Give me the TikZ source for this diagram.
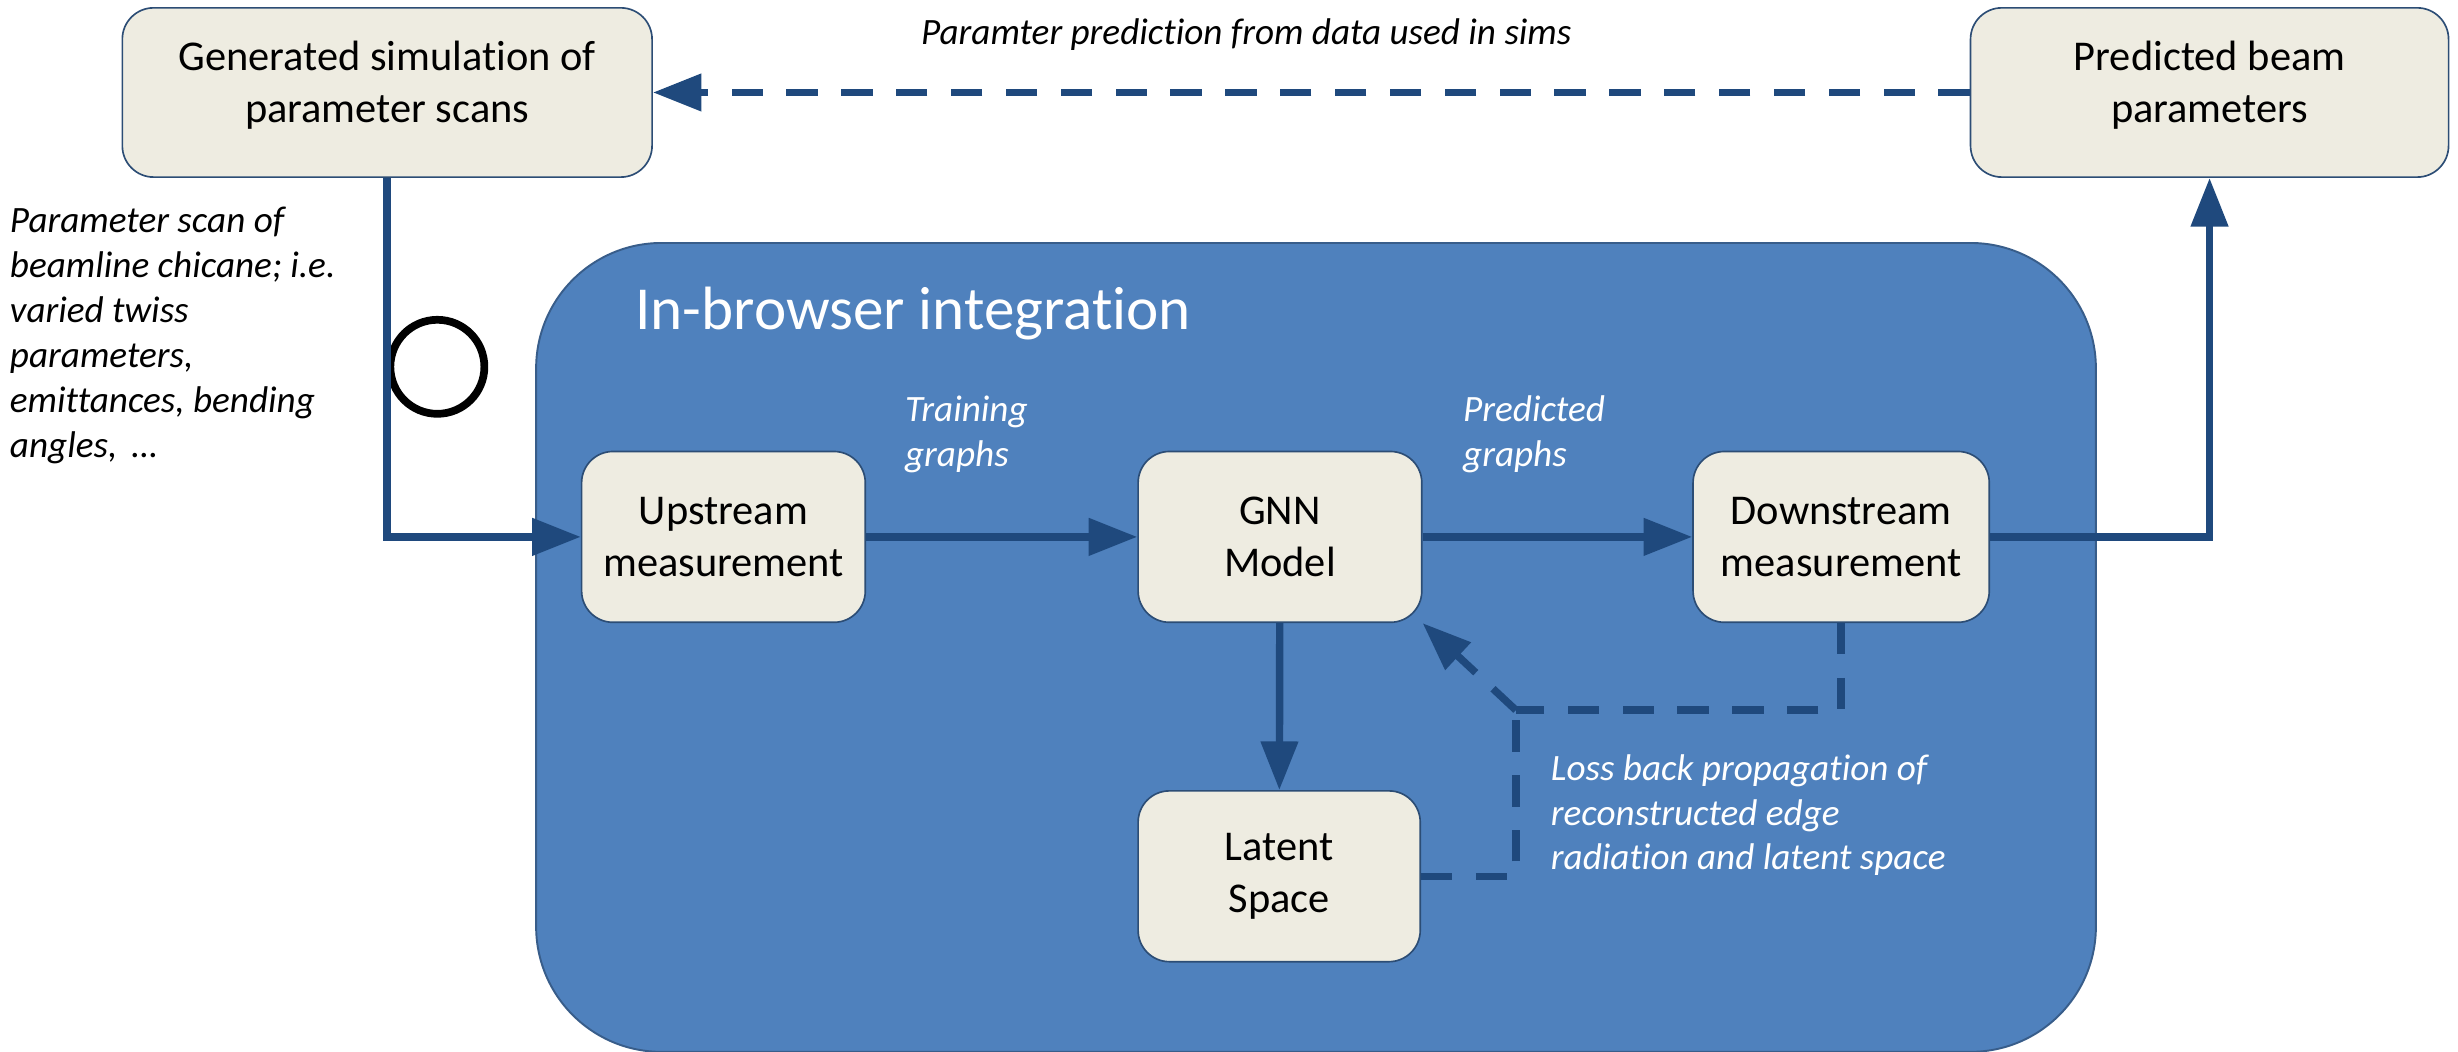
\documentclass[tikz,border=0pt]{standalone}
\usepackage{fontspec}
\setmainfont{Carlito}[Ligatures={NoCommon}]
\usetikzlibrary{arrows.meta}
\definecolor{linec}{RGB}{31,73,125}
\definecolor{bigfill}{RGB}{79,129,189}
\definecolor{bigborder}{RGB}{56,93,138}
\definecolor{boxfill}{RGB}{238,236,225}
\definecolor{boxborder}{RGB}{44,77,117}
\tikzset{
  box/.style={draw=boxborder, line width=0.6pt, fill=boxfill, rounded corners=0.4cm,
    align=center, inner sep=0pt, font=\fontsize{15.4}{18.8}\selectfont},
  conn/.style={draw=linec, line width=2.7pt, -{Triangle[length=0.62cm,width=0.46cm]}},
  dashc/.style={draw=linec, line width=2.7pt, dash pattern=on 0.4cm off 0.3cm},
  lab/.style={font=\fontsize{13.5}{16.3}\selectfont\itshape, align=left, inner sep=0pt, anchor=west},
}
\begin{document}
\begin{tikzpicture}[x=0.02cm,y=-0.02cm]
\useasboundingbox (0,0) rectangle (1568,671);
\clip (0,0) rectangle (1568,671);
% big container
\draw[fill=bigfill, draw=bigborder, line width=0.7pt, rounded corners=1.6cm] (342,155) rectangle (1337,671);
\node[anchor=west, text=white, inner sep=0pt, font=\fontsize{22.2}{26}\selectfont] (title) at (405,200) {In-browser integration};
% boxes
\node[box, minimum width=6.76cm, minimum height=2.16cm, text depth=0.28cm] (gen) at (247,59) {Generated simulation of\\parameter scans};
\node[box, minimum width=6.1cm, minimum height=2.16cm, text depth=0.28cm] (pred) at (1409.5,59) {Predicted beam\\parameters};
\node[box, minimum width=3.62cm, minimum height=2.18cm] (up) at (461.5,342.5) {Upstream\\measurement};
\node[box, minimum width=3.62cm, minimum height=2.18cm] (gnn) at (816.5,342.5) {GNN\\Model};
\node[box, minimum width=3.78cm, minimum height=2.18cm] (down) at (1174.5,342.5) {Downstream\\measurement};
\node[box, minimum width=3.6cm, minimum height=2.18cm] (lat) at (816,559) {Latent\\Space};
% labels
\node[lab] (scanlab) at (6,214) {Parameter scan of\\beamline chicane; i.e.\\varied twiss\\parameters,\\emittances, bending\\angles, \,\dots};
\node[lab, anchor=center] (predlab) at (795,22) {Paramter prediction from data used in sims};
\node[lab, text=white] (trainlab) at (577,277) {Training\\graphs};
\node[lab, text=white] (pgraphlab) at (933,277) {Predicted\\graphs};
\node[lab, text=white] (losslab) at (989,520) {Loss back propagation of\\reconstructed edge\\radiation and latent space};
% circle
\node[draw=black, line width=2.8pt, circle, minimum size=1.2cm, inner sep=0pt] (circ) at (279,234) {};
% connectors
\draw[conn] (gen.south) -- (gen.south |- up.west) -- (up.west);
\draw[conn] (up) -- (gnn);
\draw[conn] (gnn) -- (down);
\draw[conn] (gnn) -- (lat);
\draw[conn] (down.east) -- (pred.south |- down.east) -- (pred.south);
\draw[dashc, -{Triangle[length=0.62cm,width=0.46cm]}] (pred.west) -- (gen.east);
\coordinate (j) at (967,453);
\draw[dashc] (down.south) -- (down.south |- j) -- (j);
\draw[dashc] (lat.east) -- (j |- lat.east) -- (j);
\draw[dashc, -{Triangle[length=0.62cm,width=0.46cm]}] (j) -- (gnn.south east);
\end{tikzpicture}
\end{document}
